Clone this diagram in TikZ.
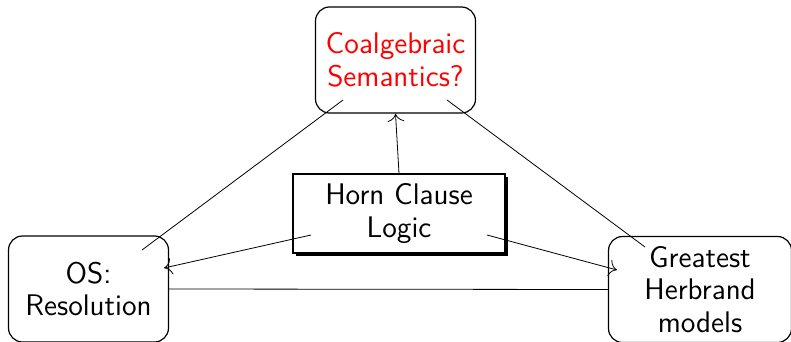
\documentclass[tikz,border=0pt]{standalone}
\usepackage{xcolor}
\usetikzlibrary{arrows.meta,shadows}

\begin{document}
\begin{tikzpicture}[
				x=0.5pt, y=-0.5pt,
				font=\fontsize{14.9}{16.4}\selectfont\sffamily,
				>={To[scale=1.6]},
				% Node styles
				corner/.style={
					rectangle, rounded corners=7pt,
					draw=black, semithick,
					align=center, inner sep=2pt,
					minimum width=80pt, minimum height=53pt
				},
				hub/.style={
					rectangle, draw=black, fill=white, semithick,
					align=center, inner sep=2pt,
					minimum width=106pt, minimum height=39.5pt,
					drop shadow={shadow xshift=1.3pt, shadow yshift=-1.3pt,
						opacity=1, fill=black}
				},
				arr/.style={->, thin, black},
				link/.style={thin, black}
				]
				\useasboundingbox (0,0) rectangle (791,342);
				
				%% ─── CORNER BOXES ────────────────────────────────────────────
				\node[corner, text=red] (coalg) at (395.5,60)  {Coalgebraic\\Semantics?};
				\node[corner] (os) at (88.5,289) {OS:\\Resolution};
				\node[corner, minimum width=91.5pt] (herbrand) at (700,289.5)
				{Greatest\\Herbrand\\models};
				
				%% ─── CENTRE BOX ──────────────────────────────────────────────
				\node[hub] (horn) at (399,213.5) {Horn Clause\\Logic};
				
				% inner ends of the connectors
				\coordinate (coalg-l) at (343,100);
				\coordinate (coalg-r) at (447,100);
				\coordinate (os-t) at (142,250);
				\coordinate (os-r) at (164,268);
				\coordinate (herbrand-t) at (645,247);
				\coordinate (herbrand-l) at (617,270);
				\coordinate (horn-l) at (311,235);
				\coordinate (horn-r) at (487,235);
				
				%% ─── CONNECTORS ──────────────────────────────────────────────
				\draw[link] (coalg-l) -- (os-t);
				\draw[link] (coalg-r) -- (herbrand-t);
				\draw[link] (os.east) -- (herbrand.west);
				
				\draw[arr] (horn.north) -- (coalg.south);
				\draw[arr] (horn-l) -- (os-r);
				\draw[arr] (horn-r) -- (herbrand-l);
				
\end{tikzpicture}
\end{document}
